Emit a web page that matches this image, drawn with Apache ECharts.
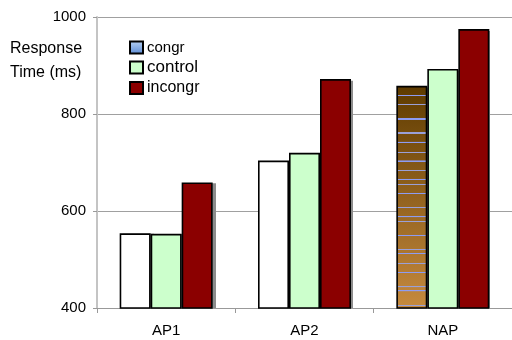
<!DOCTYPE html>
<html>
<head>
<meta charset="utf-8">
<script src="https://cdn.jsdelivr.net/npm/echarts@6/dist/echarts.min.js"></script>
<style>
  html, body { margin: 0; padding: 0; background: #fff; }
  #chart { width: 512px; height: 340px; }
</style>
</head>
<body>
<div id="chart"></div>
<script>
// Response times (ms) per condition
const categories = ['AP1', 'AP2', 'NAP'];
const congr = [554, 704, 858];
const control = [553, 720, 893];
const incongr = [659, 872, 975];
const yTicks = [400, 600, 800, 1000];

const FONT = '"Liberation Sans", Arial, sans-serif';

// Brown gradient with thin lavender stripes for the NAP congr bar
function stripedBrown() {
  const top = [94, 59, 0], bottom = [198, 138, 62];
  const mix = t => 'rgb(' + top.map((c, i) => Math.round(c + (bottom[i] - c) * t)).join(',') + ')';
  const lines = [0.04, 0.08, 0.146, 0.209, 0.25, 0.295, 0.335, 0.376, 0.416, 0.439, 0.48,
                 0.543, 0.584, 0.605, 0.668, 0.731, 0.749, 0.794, 0.835, 0.898, 0.916, 0.983];
  const stops = [{ offset: 0, color: mix(0) }];
  const w = 0.006;
  lines.forEach((p, k) => {
    const lc = k % 2 ? '#9aa0d8' : '#8d9cf2';
    stops.push({ offset: p - 0.0005, color: mix(p) });
    stops.push({ offset: p, color: lc });
    stops.push({ offset: p + w, color: lc });
    stops.push({ offset: p + w + 0.0005, color: mix(p + w) });
  });
  stops.push({ offset: 1, color: mix(1) });
  return new echarts.graphic.LinearGradient(0, 0, 0, 1, stops);
}

const border = { borderColor: '#000', borderWidth: 1.6 };
const barBase = { type: 'bar', barWidth: 31, barGap: '0%', z: 3 };

// Drop shadows: the same bars drawn in a second grid nudged right and down
const shadowSeries = [congr, control, incongr].map(vals => ({
  type: 'bar', barWidth: 31, barGap: '0%', z: 1, silent: true,
  xAxisIndex: 1, yAxisIndex: 1,
  itemStyle: { color: '#8c8c8c' },
  data: vals
}));

// One legend block per entry so each row sits at its own height
const legendRows = [
  { name: 'congr', top: 40, size: 15 },
  { name: 'control', top: 59, size: 17 },
  { name: 'incongr', top: 80, size: 16 }
];

const chart = echarts.init(document.getElementById('chart'), null, { renderer: 'canvas' });
chart.setOption({
  animation: false,
  backgroundColor: '#fff',
  grid: [
    { left: 97, right: -4, top: 17, bottom: 32 },
    { left: 101, right: -8, top: 19, bottom: 32 }
  ],
  legend: legendRows.map(r => ({
    orient: 'vertical',
    left: 129,
    top: r.top,
    padding: 0,
    itemWidth: 13,
    itemHeight: 12,
    itemGap: 0,
    icon: 'rect',
    textStyle: { fontFamily: FONT, color: '#000', fontSize: r.size, lineHeight: 12, padding: [0, 0, 0, -1] },
    data: [r.name]
  })),
  graphic: [
    { type: 'text', left: 10, top: 37,
      style: { text: 'Response\nTime (ms)', font: '16px ' + FONT, fill: '#000', lineHeight: 24 } }
  ],
  xAxis: [
    {
      type: 'category',
      data: categories,
      gridIndex: 0,
      axisLine: { lineStyle: { color: '#999', width: 1 } },
      axisTick: { show: true, length: 5, lineStyle: { color: '#999' } },
      axisLabel: { fontFamily: FONT, fontSize: 15, color: '#000', margin: 15 }
    },
    { type: 'category', data: categories, gridIndex: 1, show: false }
  ],
  yAxis: [
    {
      type: 'value',
      gridIndex: 0,
      min: yTicks[0],
      max: yTicks[yTicks.length - 1],
      interval: 200,
      axisLine: { show: true, lineStyle: { color: '#c4c4c4', width: 2 } },
      axisTick: { show: true, length: 4, lineStyle: { color: '#999' } },
      axisLabel: { fontFamily: FONT, fontSize: 15, color: '#000', margin: 11, formatter: v => String(v) },
      splitLine: { lineStyle: { color: '#a0a0a0', width: 1 } }
    },
    {
      type: 'value', gridIndex: 1, show: false,
      min: yTicks[0], max: yTicks[yTicks.length - 1], interval: 200,
      splitLine: { show: false }
    }
  ],
  series: [
    ...shadowSeries,
    Object.assign({}, barBase, {
      name: 'congr',
      itemStyle: Object.assign({
        color: new echarts.graphic.LinearGradient(0, 0, 0, 1, [
          { offset: 0, color: '#b9d3f4' }, { offset: 1, color: '#5a8ad4' }])
      }, border),
      data: congr.map((v, i) => ({
        value: v,
        itemStyle: Object.assign({ color: i < 2 ? '#fff' : stripedBrown() }, border)
      }))
    }),
    Object.assign({}, barBase, {
      name: 'control',
      itemStyle: Object.assign({ color: '#ccffcc' }, border),
      data: control
    }),
    Object.assign({}, barBase, {
      name: 'incongr',
      itemStyle: Object.assign({ color: '#8b0000' }, border),
      data: incongr
    })
  ]
});
</script>
</body>
</html>
